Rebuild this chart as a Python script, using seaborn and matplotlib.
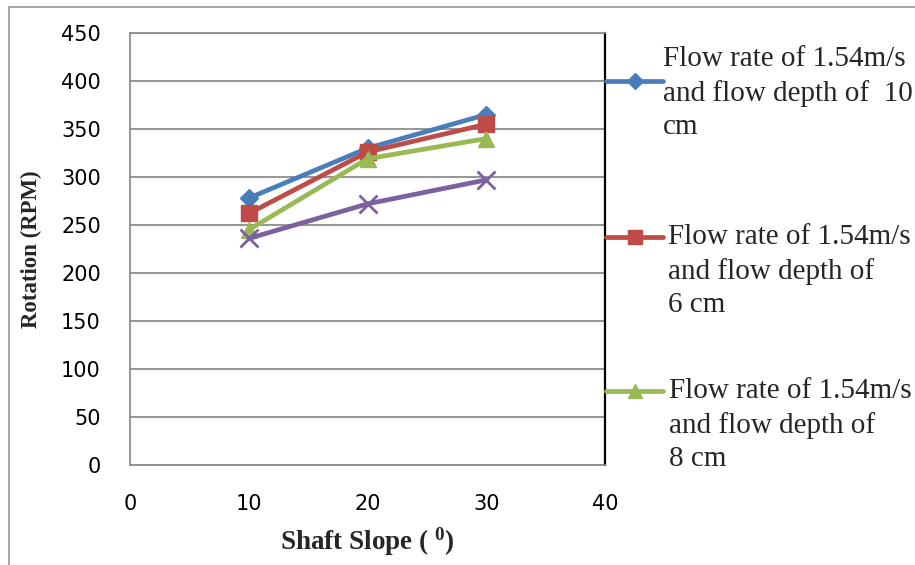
import matplotlib
matplotlib.use("Agg")
import matplotlib.pyplot as plt
from matplotlib.lines import Line2D
import seaborn as sns
import pandas as pd

slopes = [10, 20, 30]
depth10 = [278, 330, 365]
depth6 = [262, 326, 355]
depth8 = [245, 319, 340]
series4 = [236, 272, 297]
labels = ["Flow rate of 1.54m/s\nand flow depth of  10\ncm",
          "Flow rate of 1.54m/s\nand flow depth of\n6 cm",
          "Flow rate of 1.54m/s\nand flow depth of\n8 cm"]
xticks = [0, 10, 20, 30, 40]
yticks = [0, 50, 100, 150, 200, 250, 300, 350, 400, 450]

colors = ["#4A7EBB", "#BE4B48", "#98B954", "#7D60A0"]
markers = ["D", "s", "^", "x"]
msizes = [9, 11, 11, 13]

sns.set_style("white")
plt.rcParams["mathtext.fontset"] = "custom"
plt.rcParams["mathtext.rm"] = "Liberation Serif:bold"
plt.rcParams["mathtext.it"] = "Liberation Serif:bold"
plt.rcParams["mathtext.bf"] = "Liberation Serif:bold"

W, H = 915, 565
fig = plt.figure(figsize=(W / 100, H / 100), dpi=100)
ax = fig.add_axes([130 / W, 1 - 465 / H, 475 / W, 432 / H])

for vals, c, m, ms in zip([depth10, depth6, depth8, series4], colors, markers, msizes):
    df = pd.DataFrame({"x": slopes, "y": vals})
    sns.lineplot(data=df, x="x", y="y", ax=ax, color=c, linewidth=3.4,
                 marker=m, markersize=ms, markeredgecolor=c,
                 markeredgewidth=2.0 if m == "x" else 1.0, legend=False)

ax.set_xlim(0, 40)
ax.set_ylim(0, 450)
ax.set_xticks(xticks)
ax.set_yticks(yticks)
ax.tick_params(axis="both", length=0, labelsize=15, colors="black")
ax.tick_params(axis="x", pad=21)
ax.tick_params(axis="y", pad=21)
ax.grid(axis="y", color="#8C8C8C", linewidth=1.3)
ax.grid(axis="x", visible=False)
for s in ["left", "bottom", "top"]:
    ax.spines[s].set_color("#8C8C8C")
    ax.spines[s].set_linewidth(1.3)
ax.spines["right"].set_color("black")
ax.spines["right"].set_linewidth(1.6)

ax.set_xlabel("Shaft Slope ( $^{0}$)", fontsize=19.5, fontweight="bold",
              family="Liberation Serif", labelpad=8)
ax.set_ylabel("Rotation (RPM)", fontsize=16.5, fontweight="bold",
              family="Liberation Serif", labelpad=14)

# legend (manual placement to match reference)
handle_y = [81, 237, 391]
text_y = [93, 271, 425]
text_x = [663, 668, 669]
for i in range(3):
    yy = 1 - handle_y[i] / H
    fig.add_artist(Line2D([606 / W, 663 / W], [yy, yy], transform=fig.transFigure,
                          color=colors[i], linewidth=3.4))
    fig.add_artist(Line2D([635 / W], [yy], transform=fig.transFigure,
                          color=colors[i], marker=markers[i], markersize=msizes[i] - 1,
                          markeredgecolor=colors[i], linestyle="none"))
    fig.text(text_x[i] / W, 1 - text_y[i] / H, labels[i], fontsize=21,
             family="Liberation Serif", va="center", ha="left", linespacing=1.36)

# outer frame
fig.add_artist(Line2D([9 / W, 9 / W], [0, 1 - 7 / H], transform=fig.transFigure,
                      color="#A0A0A0", linewidth=1.3))
fig.add_artist(Line2D([9 / W, 1], [1 - 7 / H, 1 - 7 / H], transform=fig.transFigure,
                      color="#A0A0A0", linewidth=1.3))

fig.savefig("out.png", dpi=100)
